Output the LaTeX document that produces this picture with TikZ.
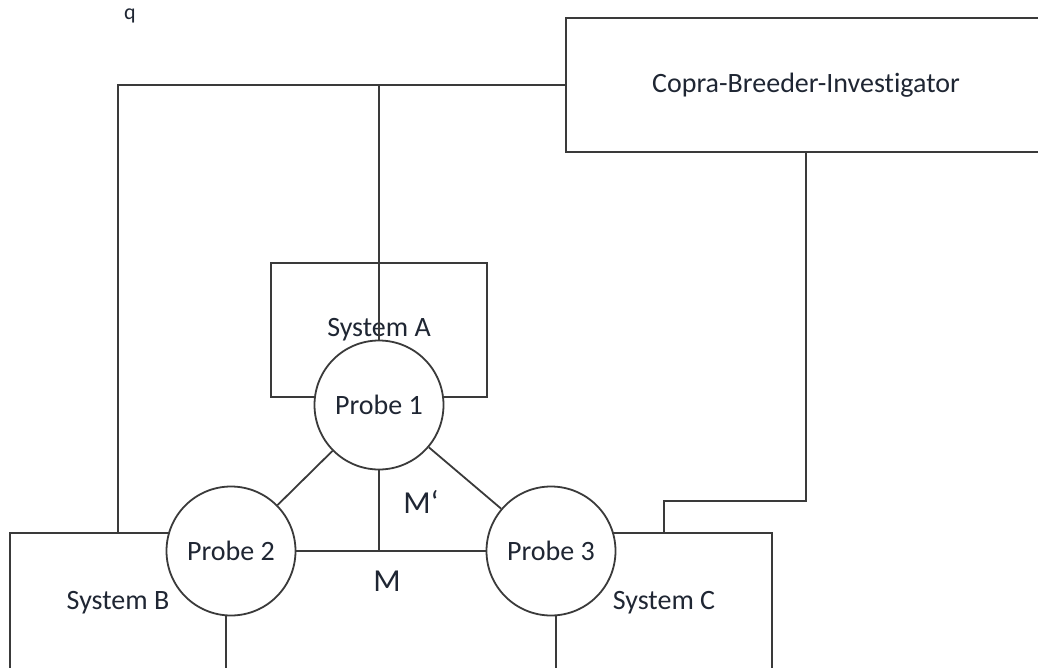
\documentclass[tikz,border=0pt]{standalone}
\usepackage{fontspec}
\setmainfont{Carlito}[Ligatures=NoCommon]
\usetikzlibrary{positioning,calc}
\definecolor{line-gray}{HTML}{3A3A3A}
\definecolor{text-ink}{HTML}{1F2633}

\begin{document}
\begin{tikzpicture}[x=1pt,y=-1pt,
    sysbox/.style={draw=line-gray,line width=1.8pt,minimum width=216pt,minimum height=134pt,inner sep=0pt,
                   text=text-ink,font=\fontsize{28}{32}\selectfont},
    probe/.style={circle,draw=line-gray,line width=1.8pt,fill=white,minimum size=129pt,inner sep=0pt,
                  text=text-ink,font=\fontsize{28}{32}\selectfont},
    wire/.style={draw=line-gray,line width=1.8pt},
    tag/.style={text=text-ink,font=\fontsize{32}{36}\selectfont}]
  \useasboundingbox (0,0) rectangle (1038,668);
  \node[text=text-ink,font=\fontsize{22}{26}\selectfont] (q) at (130,16) {q};
  % systems
  \node[sysbox,minimum width=480pt] (copra) at (806,85) {Copra-Breeder-Investigator};
  \node[sysbox] (sysA) at (379,330) {System A};
  \node[sysbox,minimum height=139pt] (sysB) at (118,602.5) {System B};
  \node[sysbox,minimum height=139pt] (sysC) at (664,602.5) {System C};
  % probes
  \node[probe] (pr1) at (379,405) {Probe 1};
  \node[probe] (pr2) at (231,551) {Probe 2};
  \node[probe] (pr3) at (551,551) {Probe 3};
  % investigator wiring
  \draw[wire] (copra.west) -| (sysB.north);
  \draw[wire] (pr1.north) -- (pr1.north |- copra.west);
  \draw[wire] (copra.south) |- ($(sysC.north)+(0,-31)$) -- (sysC.north);
  % probe links
  \coordinate (mid) at (pr1 |- pr2);
  \draw[wire] (pr1) -- (pr2);
  \draw[wire] (pr1) -- (pr3);
  \draw[wire] (pr2) -- (pr3);
  \draw[wire] (pr1) -- (mid);
  \node[tag] (mprime) at (421,502) {M‘};
  \node[tag] (mlab) at (387,581) {M};
\end{tikzpicture}
\end{document}
